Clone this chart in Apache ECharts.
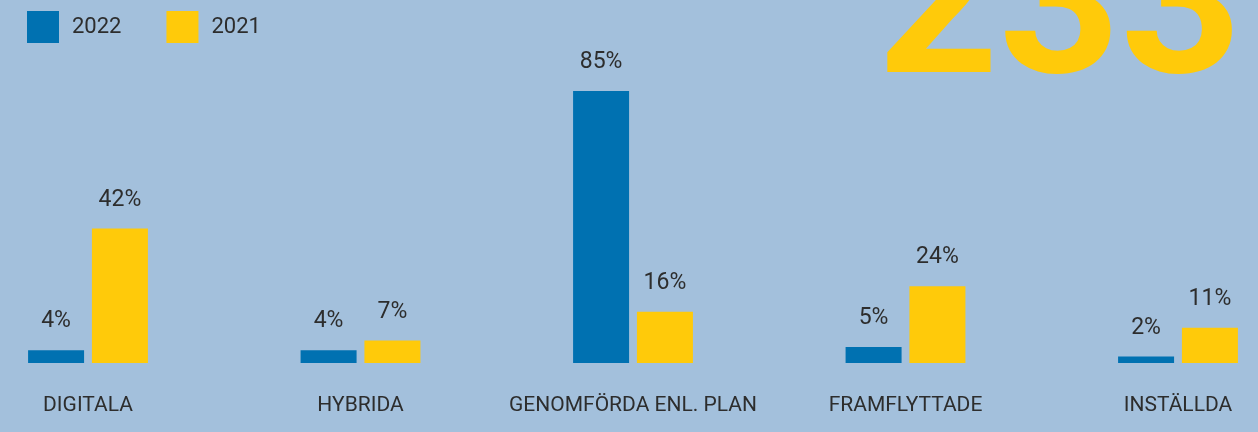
<!DOCTYPE html>
<html>
<head>
<meta charset="utf-8">
<style>
    html, body { margin: 0; padding: 0; background: #a3c0dc; }
    #chart { width: 1258px; height: 432px; }
</style>
<script src="https://cdn.jsdelivr.net/npm/echarts@6/dist/echarts.min.js"></script>
</head>
<body>
<div id="chart"></div>
<script>
// Kategorier och v\u00e4rden (procent)
const categories = ['DIGITALA', 'HYBRIDA', 'GENOMF\u00D6RDA ENL. PLAN', 'FRAMFLYTTADE', 'INST\u00C4LLDA'];
const values2022 = [4, 4, 85, 5, 2];
const values2021 = [42, 7, 16, 24, 11];
const seriesNames = ['2022', '2021'];
const bigNumber = '233';

const textColor = '#2d2d2d';
const fontFamily = 'Roboto, sans-serif';

const chart = echarts.init(document.getElementById('chart'));

const barLabel = {
    show: true,
    position: 'top',
    distance: 17,
    color: textColor,
    fontFamily: fontFamily,
    fontSize: 23,
    formatter: function(p) {
        return p.value + '%';
    }
};

const option = {
    backgroundColor: '#a3c0dc',
    animation: false,
    graphic: [{
        type: 'text',
        right: 16,
        top: -87,
        z: 0,
        style: {
            text: bigNumber,
            fill: '#ffca0a',
            font: 'bold 212px Roboto, sans-serif'
        }
    }],
    legend: {
        data: seriesNames,
        left: 22,
        top: 6,
        itemWidth: 32,
        itemHeight: 32,
        itemGap: 45,
        icon: 'rect',
        textStyle: {
            color: textColor,
            fontFamily: fontFamily,
            fontSize: 22,
            padding: [0, 0, 0, 8]
        }
    },
    grid: {
        left: 88,
        right: 80,
        top: 43,
        bottom: 69
    },
    xAxis: {
        type: 'category',
        data: categories,
        boundaryGap: false,
        axisLine: { show: false },
        axisTick: { show: false },
        axisLabel: {
            interval: 0,
            margin: 32,
            color: textColor,
            fontFamily: fontFamily,
            fontSize: 21
        }
    },
    yAxis: {
        type: 'value',
        min: 0,
        max: 100,
        show: false
    },
    series: [
        {
            name: seriesNames[0],
            type: 'bar',
            data: values2022,
            barWidth: 56,
            barGap: '14%',
            itemStyle: { color: '#0071b1' },
            label: barLabel
        },
        {
            name: seriesNames[1],
            type: 'bar',
            data: values2021,
            barWidth: 56,
            barGap: '14%',
            itemStyle: { color: '#ffca0a' },
            label: barLabel
        }
    ]
};

chart.setOption(option);
</script>
</body>
</html>
